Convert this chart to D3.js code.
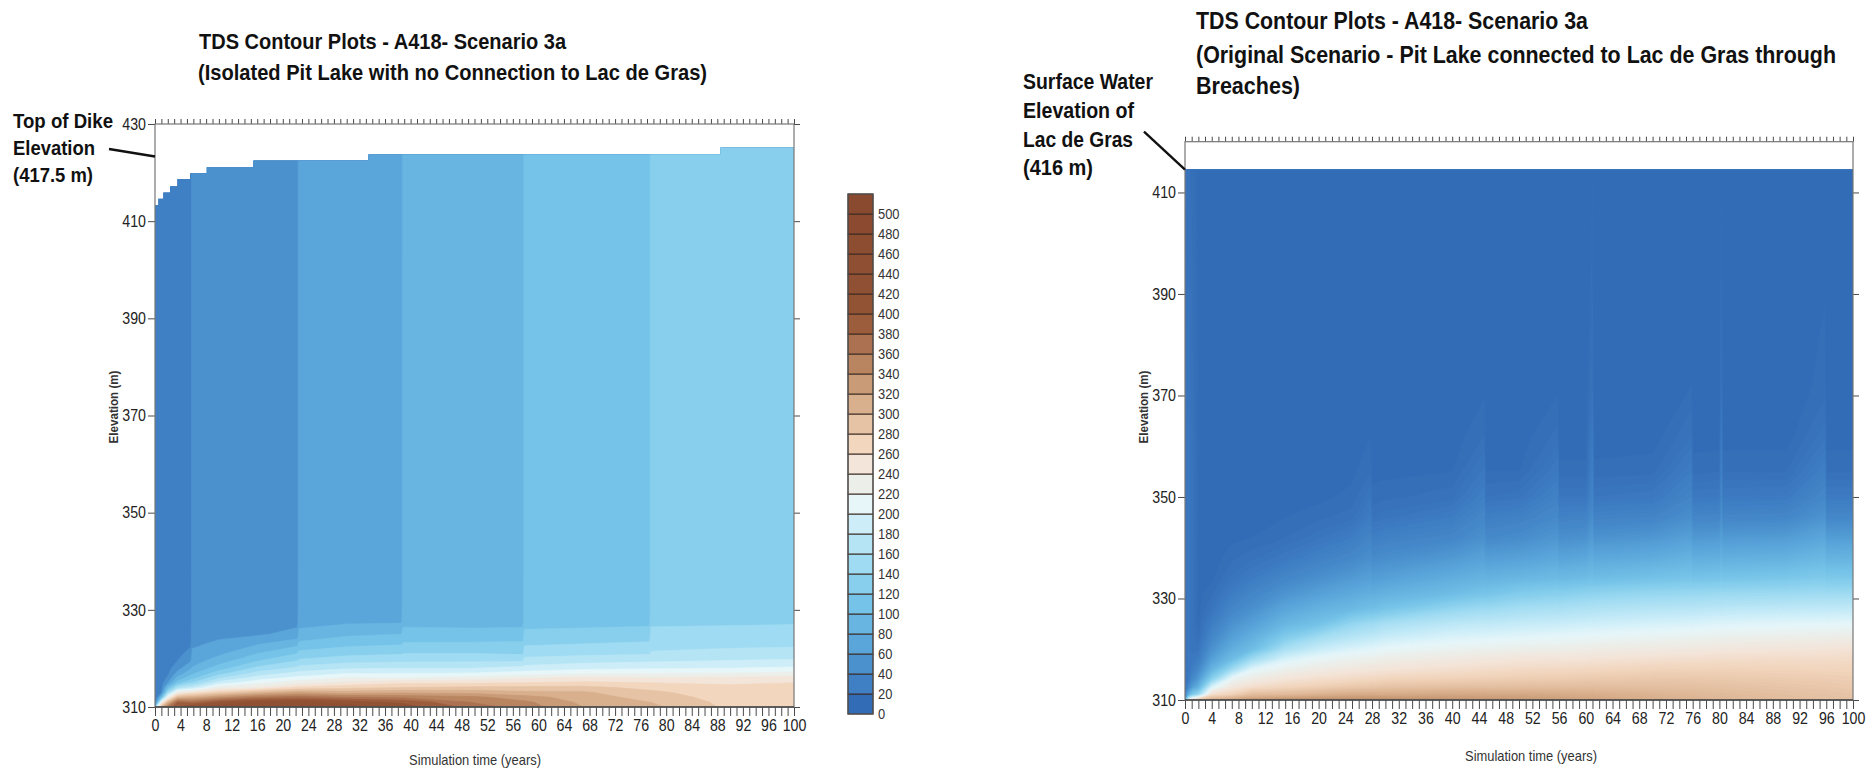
<!DOCTYPE html>
<html><head><meta charset="utf-8">
<script src="https://cdn.jsdelivr.net/npm/d3@7"></script>
<style>
body{margin:0;background:#fff}
svg{display:block}
text{font-family:"Liberation Sans",Arial,Helvetica,sans-serif}
</style></head>
<body><svg id="c" width="1872" height="769"></svg>
<script>
// ---------- data ----------
const yearTicks = d3.range(0, 101, 1);
const yearLabelStep = 4;
const leftElevTicks = [310, 330, 350, 370, 390, 410, 430];
const rightElevTicks = [310, 330, 350, 370, 390, 410];
const legendLabels = d3.range(0, 501, 20);
const bandStep = 20;
const bandColors = ["#336cb6","#3f7fc4","#4b91ce","#5aa5da","#68b5e1","#75c3e8","#88cfed","#9fdbf2","#b5e4f5","#cdeef9","#e6f6f9","#eceee9","#f3e5da","#f2d6be","#e6c3a5","#d9b08e","#c99b77","#b98561","#ab7150","#9c5d3d","#925234","#905033","#8f4f32","#8d4d31","#8c4b30","#8a4a2f"];

// Left panel: isolated pit lake (TDS, mg/L) – one profile per time, bottom -> top
const leftTimes = [0, 0.3, 1, 2, 3.5, 5.6, 5.8, 10, 16, 22.3, 22.5, 30, 38.6, 38.8, 50, 57.6, 57.8, 67, 77.4, 77.6, 90, 100];
const leftElev = [310, 311, 312, 313, 314, 315, 316, 317, 318, 319.5, 321, 323, 325, 327.5, 331, 338, 430];
const leftTDS = [
 [50,32,30,30,30,30,30,30,30,30,30,30,30,30,30,30,30],
 [200,70,36,31,30,30,30,30,30,30,30,30,30,30,30,30,30],
 [300,220,100,40,33,31,30,30,30,30,30,30,30,30,30,30,30],
 [360,300,220,150,100,60,43,36,33,31,30,30,30,30,30,30,30],
 [400,380,300,230,160,110,85,65,52,40,34,31,30,30,30,30,30],
 [420,370,310,250,180,140,110,92,77,58,47,37,33,31,30,30,30],
 [420,370,310,250,180,140,112,95,82,70,63,57,53,51,50,50,50],
 [430,400,335,275,228,188,156,130,110,90,76,63,56,52,50,50,50],
 [440,420,360,300,240,214,189,166,145,119,100,78,57,53,50,50,50],
 [440,425,370,318,265,232,206,185,165,140,120,93,67,54,50,50,50],
 [440,425,370,318,265,232,206,185,168,144,126,105,85,74,71,70,70],
 [430,410,360,310,274,245,222,197,177,153,134,114,96,77,72,70,70],
 [410,396,355,315,280,256,220,198,180,156,138,118,100,78,72,70,70],
 [410,396,355,315,280,256,220,198,180,156,140,122,108,94,91,90,90],
 [370,358,345,312,285,257,228,200,180,157,140,123,106,94,91,90,90],
 [350,345,328,305,285,260,235,208,187,158,137,124,108,94,91,90,90],
 [350,345,328,305,285,260,235,208,187,168,152,137,124,114,111,110,110],
 [320,315,310,303,286,264,245,215,194,173,155,140,126,114,111,110,110],
 [305,300,292,285,274,260,240,218,197,177,158,143,129,115,111,110,110],
 [305,300,292,285,274,260,240,218,197,177,162,154,146,136,132,130,130],
 [275,273,270,266,263,258,244,220,200,181,166,155,147,137,132,130,130],
 [265,264,263,262,261,260,246,224,203,183,168,156,148,138,132,130,130]
];
const leftSurfaceT = [0, 0.52, 1.3, 2.35, 3.5, 5.5, 8.1, 15.4, 33.4, 88.5, 100];
const leftSurfaceZ = [413.3, 414.6, 415.9, 417.2, 418.7, 419.85, 421.1, 422.5, 423.7, 425.1, 425.1];

// Right panel: pit lake connected to Lac de Gras
const rightTimes = [0, 0.5, 1, 2, 4, 7, 10, 15, 20, 25, 27.8, 28, 30, 40, 44.8, 45, 50, 55.8, 56, 60, 61, 61.2, 70, 75.8, 76, 80, 80.3, 80.5, 90, 95.8, 96, 100];
const rightElev = [310, 311, 312.5, 314, 316, 318, 320, 322, 325, 328, 331, 334, 338, 342, 346, 350, 355, 362, 372, 420];
const rightTDS = [
 [60,30,16,14,16,17,18,18,18,18,18,18,18,18,18,18,18,18,18,16],
 [200,80,40,25,22,22,22,22,22,22,22,22,22,22,22,22,22,22,20,16],
 [250,120,60,40,28,22,20,19,19,19,19,19,19,19,19,19,19,18,17,14],
 [280,150,85,60,40,28,20,15,12,11,11,11,11,11,11,11,11,11,11,11],
 [310,260,200,135,88,65,50,40,28,19,14,11,10,10,10,10,10,10,10,10],
 [320,275,245,220,150,100,80,66,50,37,27,19,14,11,10,10,10,10,10,10],
 [330,296,260,237,205,150,100,85,64,48,37,26,17,12,10,10,10,10,10,10],
 [338,300,270,252,226,198,160,128,92,70,52,38,23,15,12,10,10,10,10,10],
 [340,308,278,260,238,215,185,158,108,85,64,48,32,20,14,11,10,10,10,10],
 [340,315,285,266,245,225,200,175,140,95,75,58,40,27,17,13,11,10,10,10],
 [340,315,287,269,248,229,206,183,150,105,82,64,48,36,27,21,15,12,10,10],
 [340,315,287,269,248,229,206,183,149,103,80,61,43,29,18,13,11,10,10,10],
 [340,315,290,272,251,233,212,190,158,112,85,65,46,32,20,14,11,10,10,10],
 [335,318,294,276,258,242,222,203,175,140,100,80,57,38,27,17,12,10,10,10],
 [333,318,294,278,261,246,226,206,180,148,112,88,66,49,39,30,22,15,11,10],
 [333,318,294,278,261,246,226,206,179,147,111,86,61,41,29,18,12,10,10,10],
 [330,318,295,280,264,250,229,210,183,155,123,92,65,45,32,20,12,10,10,10],
 [326,315,295,281,266,251,232,213,187,160,130,99,73,54,42,33,24,16,11,10],
 [326,315,295,281,266,251,232,213,187,159,128,96,68,47,33,21,13,10,10,10],
 [322,312,296,283,268,252,235,216,190,164,135,100,72,50,34,21,13,10,10,10],
 [322,312,296,283,268,253,236,217,191,165,136,104,80,60,46,37,30,24,17,11],
 [321,312,296,283,268,253,236,217,191,165,136,101,73,50,34,21,13,10,10,10],
 [312,306,295,285,272,257,240,223,196,170,142,108,78,55,36,23,14,10,10,10],
 [307,302,293,285,272,259,243,226,199,172,144,113,86,64,47,36,27,18,12,10],
 [307,302,293,285,272,259,243,226,199,172,144,110,80,56,37,23,14,10,10,10],
 [303,299,292,284,273,261,246,229,203,175,146,113,82,58,38,24,15,10,10,10],
 [303,299,292,284,273,261,246,229,203,175,146,116,88,66,50,40,32,25,18,11],
 [303,299,292,284,273,261,246,229,203,175,146,113,82,58,38,24,15,10,10,10],
 [297,294,288,281,272,262,249,233,206,178,148,117,85,60,39,25,15,10,10,10],
 [294,291,286,280,271,262,251,235,208,179,150,122,94,71,52,40,30,20,13,10],
 [294,291,286,280,271,262,251,235,208,179,149,119,87,61,39,25,15,10,10,10],
 [292,288,283,278,271,263,253,237,210,180,150,120,88,62,40,25,15,10,10,10]
];
const rightSurfaceT = [0, 100];
const rightSurfaceZ = [414.5, 414.5];

// annotation anchor (axis units)
const dikePointerZ = 423.3;

// ---------- drawing ----------
const svg = d3.select('#c');
const K = 0.86; // horizontal squeeze of the reference typography
function squeeze(sel, k, target) {
  sel.each(function () {
    const L = this.getComputedTextLength();
    if (L > 0) {
      this.setAttribute('textLength', target ? target : L * k);
      this.setAttribute('lengthAdjust', 'spacingAndGlyphs');
    }
  });
}
function label(x, y, str, opt) {
  const t = svg.append('text').attr('x', x).attr('y', y).text(str)
    .attr('font-size', opt.size).attr('font-weight', opt.bold ? 'bold' : 'normal')
    .attr('fill', opt.fill || '#111').attr('dominant-baseline', 'central')
    .attr('text-anchor', opt.anchor || 'start');
  if (opt.rotate) t.attr('transform', `rotate(-90,${x},${y})`);
  squeeze(t, K, opt.width);
  return t;
}

const bandColor = v => bandColors[Math.max(0, Math.min(bandColors.length - 1, Math.floor(v / bandStep)))];
const smoothColor = d3.scaleLinear()
  .domain(bandColors.map((c, i) => i * bandStep + bandStep / 2))
  .range(bandColors).clamp(true);

const xL = d3.scaleLinear().domain([0, 100]).range([155, 794]);
const yL = d3.scaleLinear().domain([310, 430]).range([707, 124]);
const xR = d3.scaleLinear().domain([0, 100]).range([1185, 1853]);
const yR = d3.scaleLinear().domain([310, 420]).range([700, 141.7]);

const defs = svg.append('defs');

function drawField(id, times, elev, tds, xS, yS, thresholds, colorFn, surfT, surfZ) {
  const n = times.length, m = elev.length;
  const values = new Array(n * m);
  for (let i = 0; i < n; i++) for (let j = 0; j < m; j++) values[i + j * n] = tds[i][j];
  const ix = d3.scaleLinear().domain(d3.range(n)).range(times).clamp(true);
  const iy = d3.scaleLinear().domain(d3.range(m)).range(elev).clamp(true);
  const proj = d3.geoTransform({
    point(x, y) { this.stream.point(xS(ix(x - 0.5)), yS(iy(y - 0.5))); }
  });
  const path = d3.geoPath(proj);
  const area = d3.area().curve(d3.curveStepAfter)
    .x(d => xS(d[0])).y0(yS.range()[0]).y1(d => yS(d[1]));
  defs.append('clipPath').attr('id', id).append('path').attr('d', area(d3.zip(surfT, surfZ)));
  const contours = d3.contours().size([n, m]).thresholds(thresholds)(values);
  svg.append('g').attr('clip-path', `url(#${id})`)
    .selectAll('path').data(contours).join('path')
    .attr('d', path)
    .attr('fill', d => colorFn(d.value))
    .attr('stroke', d => colorFn(d.value)).attr('stroke-width', 0.6);
}

drawField('clipL', leftTimes, leftElev, leftTDS, xL, yL,
  d3.range(0, 520, bandStep), bandColor, leftSurfaceT, leftSurfaceZ);
drawField('clipR', rightTimes, rightElev, rightTDS, xR, yR,
  d3.range(0, 420, 3), v => smoothColor(v + 1.5), rightSurfaceT, rightSurfaceZ);

function frame(xS, yS, yTicks) {
  const [x0, x1] = xS.range(), [y0, y1] = yS.range();
  const st = g => {
    g.select('.domain').remove();
    g.selectAll('line').attr('stroke', '#4a4a4a').attr('stroke-width', 1);
    g.selectAll('text').attr('font-size', 16.5).attr('fill', '#222')
      .attr('font-family', '"Liberation Sans",Arial,sans-serif');
  };
  svg.append('g').attr('transform', `translate(0,${y0})`)
    .call(d3.axisBottom(xS).tickValues(yearTicks).tickSize(9).tickPadding(3)
      .tickFormat(d => d % yearLabelStep === 0 ? d : ''))
    .call(st).call(g => squeeze(g.selectAll('text'), K));
  svg.append('g').attr('transform', `translate(0,${y1})`)
    .call(d3.axisTop(xS).tickValues(yearTicks).tickSize(5).tickFormat(''))
    .call(st);
  svg.append('g').attr('transform', `translate(${x0},0)`)
    .call(d3.axisLeft(yS).tickValues(yTicks).tickSize(7).tickPadding(2))
    .call(st).call(g => squeeze(g.selectAll('text'), K));
  svg.append('g').attr('transform', `translate(${x1},0)`)
    .call(d3.axisRight(yS).tickValues(yTicks).tickSize(6).tickFormat(''))
    .call(st);
  svg.append('rect').attr('x', x0).attr('y', y1).attr('width', x1 - x0).attr('height', y0 - y1)
    .attr('fill', 'none').attr('stroke', '#777').attr('stroke-width', 1.2);
  svg.append('line').attr('x1', x0).attr('x2', x1).attr('y1', y0).attr('y2', y0)
    .attr('stroke', '#444').attr('stroke-width', 1.5);
}
frame(xL, yL, leftElevTicks);
frame(xR, yR, rightElevTicks);

// colour bar
const yBar = d3.scaleLinear().domain([0, bandColors.length * bandStep]).range([714, 194]);
const barX = 848, barW = 25;
svg.append('g').selectAll('rect').data(bandColors).join('rect')
  .attr('x', barX).attr('width', barW)
  .attr('y', (c, i) => yBar((i + 1) * bandStep)).attr('height', (c, i) => yBar(i * bandStep) - yBar((i + 1) * bandStep))
  .attr('fill', c => c).attr('stroke', '#3a2a22').attr('stroke-width', 1);
svg.append('rect').attr('x', barX).attr('y', yBar.range()[1]).attr('width', barW)
  .attr('height', yBar.range()[0] - yBar.range()[1]).attr('fill', 'none').attr('stroke', '#555').attr('stroke-width', 1.2);
legendLabels.forEach(v => label(barX + barW + 5, yBar(v) - 1, String(v), { size: 15, fill: '#333' }));

// titles
label(199, 41, 'TDS Contour Plots - A418- Scenario 3a', { size: 22.5, bold: true, width: 367 });
label(198, 72, '(Isolated Pit Lake with no Connection to Lac de Gras)', { size: 22.5, bold: true, width: 509 });
label(1196, 20, 'TDS Contour Plots - A418- Scenario 3a', { size: 24.5, bold: true, width: 392 });
label(1196, 54, '(Original Scenario - Pit Lake connected to Lac de Gras through', { size: 24.5, bold: true, width: 640 });
label(1196, 85, 'Breaches)', { size: 24.5, bold: true, width: 104 });

// annotations
label(13, 120, 'Top of Dike', { size: 21, bold: true, width: 100 });
label(13, 147, 'Elevation', { size: 21, bold: true, width: 82 });
label(13, 174, '(417.5 m)', { size: 21, bold: true, width: 80 });
svg.append('line').attr('x1', xL(0) - 46).attr('y1', yL(dikePointerZ) - 7.5)
  .attr('x2', xL(0)).attr('y2', yL(dikePointerZ)).attr('stroke', '#111').attr('stroke-width', 2.4);
label(1023, 81, 'Surface Water', { size: 22, bold: true, width: 130 });
label(1023, 110, 'Elevation of', { size: 22, bold: true, width: 111 });
label(1023, 139, 'Lac de Gras', { size: 22, bold: true, width: 110 });
label(1023, 167, '(416 m)', { size: 22, bold: true, width: 70 });
svg.append('line').attr('x1', xR(0) - 41).attr('y1', yR(rightSurfaceZ[0]) - 38)
  .attr('x2', xR(0)).attr('y2', yR(rightSurfaceZ[0])).attr('stroke', '#111').attr('stroke-width', 2.4);

// axis titles
label(475, 759, 'Simulation time (years)', { size: 15, anchor: 'middle', fill: '#333' });
label(1531, 755, 'Simulation time (years)', { size: 15, anchor: 'middle', fill: '#333' });
label(113, 407, 'Elevation (m)', { size: 13.5, bold: true, anchor: 'middle', rotate: true, fill: '#333' });
label(1143, 407, 'Elevation (m)', { size: 13.5, bold: true, anchor: 'middle', rotate: true, fill: '#333' });
</script>
</body></html>
